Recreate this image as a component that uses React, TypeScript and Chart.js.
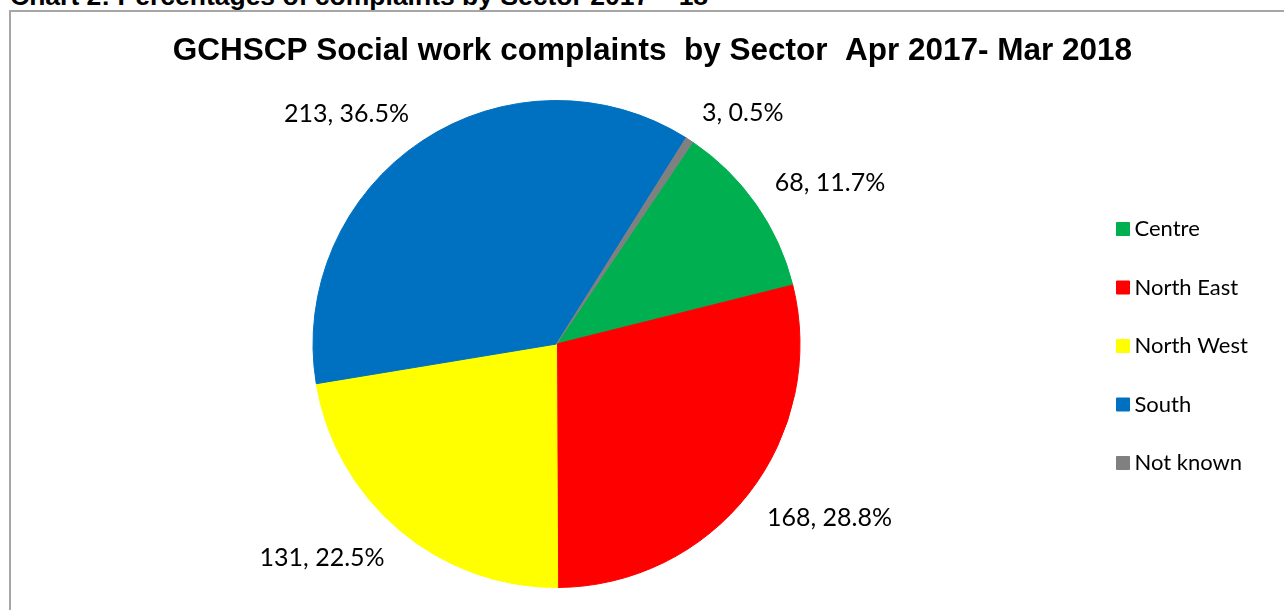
import React, { useEffect, useRef } from "react";
import { Chart, registerables } from "chart.js";

Chart.register(...registerables);

// ---- data ----
const CATEGORIES: string[] = ["Centre", "North East", "North West", "South", "Not known"];
const COMPLAINTS: number[] = [68, 168, 131, 213, 3];
const COLORS: string[] = ["#00B050", "#FF0000", "#FFFF00", "#0070C0", "#808080"];

const HEADING = "Chart 2: Percentages of complaints by Sector 2017 \u2013 18";
const TITLE = "GCHSCP Social work complaints  by Sector  Apr 2017- Mar 2018";

// ---- style constants ----
const W = 1284;
const H = 610;
const LABEL_FONT = "Lato, 'Open Sans', sans-serif";
const LABEL_SIZE = 25;
const LABEL_GAP = 23;
const LEGEND_SIZE = 22;
const LEGEND_PAD = 36.5;
const FIRST_SLICE_ANGLE = 34;
const PIE_LEFT = 27;
const LEGEND_LEFT = 1086;

const sliceLabels = {
  id: "sliceLabels",
  afterDatasetsDraw(chart: any) {
    const { ctx } = chart;
    const meta = chart.getDatasetMeta(0);
    const data = chart.data.datasets[0].data as number[];
    const total = data.reduce((a, b) => a + b, 0);
    ctx.save();
    ctx.font = `${LABEL_SIZE}px ${LABEL_FONT}`;
    ctx.fillStyle = "#000";
    ctx.textBaseline = "alphabetic";
    meta.data.forEach((arc: any, i: number) => {
      const { x, y, startAngle, endAngle, outerRadius } = arc.getProps(
        ["x", "y", "startAngle", "endAngle", "outerRadius"],
        true
      );
      const mid = (startAngle + endAngle) / 2;
      const c = Math.cos(mid);
      const s = Math.sin(mid);
      const r = outerRadius + LABEL_GAP;
      const ax = x + c * r;
      const ay = y + s * r;
      const pct = ((data[i] / total) * 100).toFixed(1);
      const text = `${data[i]}, ${pct}%`;
      ctx.textAlign = c >= 0 ? "left" : "right";
      const capH = LABEL_SIZE * 0.72;
      const by = s < 0 ? ay : ay + capH;
      ctx.fillText(text, ax, by);
    });
    ctx.restore();
  },
};

export default function App() {
  const ref = useRef<HTMLCanvasElement>(null);

  useEffect(() => {
    const canvas = ref.current;
    if (!canvas) return;
    // measure widest legend text to place the legend box
    const mctx = document.createElement("canvas").getContext("2d")!;
    mctx.font = `${LEGEND_SIZE}px ${LABEL_FONT}`;
    const tw = Math.max(...CATEGORIES.map((c) => mctx.measureText(c).width));
    const legendWidth = LEGEND_PAD + 1 + LEGEND_SIZE / 2 + tw + 10;
    const padRight = W - LEGEND_LEFT - legendWidth;

    const chart = new Chart(canvas, {
      type: "pie",
      data: {
        labels: CATEGORIES,
        datasets: [
          {
            data: COMPLAINTS,
            backgroundColor: COLORS,
            borderColor: COLORS,
            borderWidth: 1,
          },
        ],
      },
      options: {
        animation: false,
        responsive: false,
        maintainAspectRatio: false,
        rotation: FIRST_SLICE_ANGLE,
        layout: { padding: { left: PIE_LEFT, right: padRight, top: 0, bottom: 22 } },
        plugins: {
          title: {
            display: true,
            text: "\u00a0\u00a0\u200a" + TITLE,
            color: "#000",
            font: { family: "'Liberation Sans', Arial, sans-serif", size: 31.5, weight: "bold", lineHeight: 1.2 },
            padding: { top: 32, bottom: 30.2 },
          },
          legend: {
            position: "right",
            fullSize: false,
            title: { display: true, text: "", padding: 0, font: { size: 4, lineHeight: 1 } },
            labels: {
              usePointStyle: true,
              pointStyle: "rect",
              boxWidth: 1,
              boxHeight: 13,
              padding: LEGEND_PAD,
              color: "#000",
              font: { family: LABEL_FONT, size: LEGEND_SIZE },
            },
          },
          tooltip: { enabled: false },
        },
      },
      plugins: [sliceLabels],
    });
    return () => chart.destroy();
  }, []);

  return (
    <div
      style={{
        position: "absolute",
        left: 0,
        top: 0,
        width: W,
        height: H,
        overflow: "hidden",
        background: "#fff",
      }}
    >
      <div
        style={{
          position: "absolute",
          left: 10,
          top: -17,
          font: "bold 26.5px 'Liberation Sans', Arial, sans-serif",
          lineHeight: "26px",
          whiteSpace: "nowrap",
          color: "#000",
        }}
      >
        {HEADING}
      </div>
      <div
        style={{
          position: "absolute",
          left: 9,
          top: 10,
          width: 1400,
          height: 800,
          border: "2px solid #a6a6a6",
        }}
      />
      <canvas ref={ref} width={W} height={H} style={{ position: "absolute", left: 0, top: 0 }} />
    </div>
  );
}
